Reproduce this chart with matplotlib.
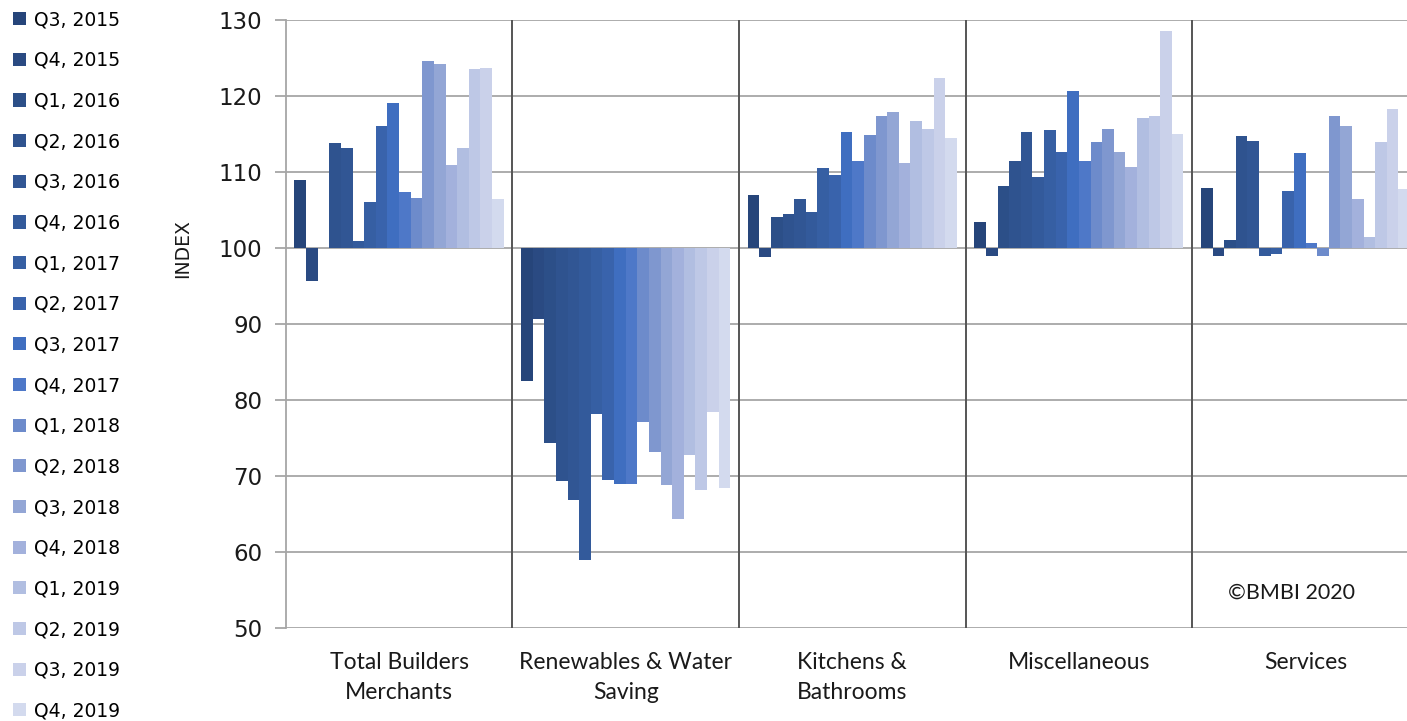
import matplotlib
matplotlib.use("Agg")
import matplotlib.pyplot as plt
import numpy as np

categories = ["Total Builders\nMerchants", "Renewables & Water\nSaving",
              "Kitchens &\nBathrooms", "Miscellaneous", "Services"]
quarters = ["Q3, 2015", "Q4, 2015",
            "Q1, 2016", "Q2, 2016", "Q3, 2016", "Q4, 2016",
            "Q1, 2017", "Q2, 2017", "Q3, 2017", "Q4, 2017",
            "Q1, 2018", "Q2, 2018", "Q3, 2018", "Q4, 2018",
            "Q1, 2019", "Q2, 2019", "Q3, 2019", "Q4, 2019"]

total_bm = [109.0, 95.6, 100.0, 113.8, 113.1, 100.9, 106.0, 116.1, 119.1,
            107.3, 106.6, 124.6, 124.2, 110.9, 113.1, 123.5, 123.7, 106.5]
renewables = [82.5, 90.6, 74.3, 69.3, 66.8, 59.0, 78.2, 69.5, 69.0,
              69.0, 77.1, 73.2, 68.8, 64.3, 72.7, 68.1, 78.4, 68.4]
kitchens = [107.0, 98.8, 104.1, 104.5, 106.5, 104.7, 110.5, 109.6, 115.2,
            111.5, 114.9, 117.3, 117.9, 111.2, 116.7, 115.6, 122.4, 114.5]
misc = [103.4, 99.0, 108.2, 111.4, 115.2, 109.4, 115.5, 112.6, 120.6,
        111.4, 113.9, 115.7, 112.6, 110.6, 117.1, 117.3, 128.5, 115.0]
services = [107.9, 99.0, 101.0, 114.7, 114.1, 98.9, 99.25, 107.5, 112.5,
            100.7, 98.9, 117.4, 116.1, 106.5, 101.4, 113.9, 118.3, 107.7]

colors = ["#26457A", "#2A4A82", "#2C4F88", "#2F538F", "#315694", "#335A9B",
          "#365FA3", "#3963AC", "#3F6EC0", "#4E78C8", "#6D8BCB", "#7F97CF",
          "#93A6D5", "#A3B1DC", "#B1BEE1", "#BEC8E6", "#CAD1EA", "#D3DAEE"]

groups = [total_bm, renewables, kitchens, misc, services]

fig = plt.figure(figsize=(14.07, 7.21), dpi=100)
ax = fig.add_axes([0.2031, 0.129, 0.8053, 0.8433])

n = len(quarters)
w = 0.923 / n
start = (1 - n * w) / 2
x = np.arange(len(groups))
for j in range(n):
    vals = np.array([g[j] for g in groups])
    ax.bar(x + start + (j + 0.5) * w, vals - 100, bottom=100, width=w,
           color=colors[j], linewidth=0, label=quarters[j], zorder=3)

ax.set_xlim(0, len(groups))
ax.set_ylim(50, 130)
ax.set_yticks(range(50, 131, 10))
ax.set_xticks([])
ax.grid(axis="y", color="#A6A6A6", linewidth=1.3, zorder=0)
for s in ["top", "right", "bottom"]:
    ax.spines[s].set_visible(False)
ax.spines["left"].set_color("#A6A6A6")
ax.spines["left"].set_linewidth(1.3)
ax.tick_params(axis="y", length=8, width=1.3, color="#A6A6A6",
               labelsize=16.5, pad=9, labelcolor="#1a1a1a")

# group separators
for b in range(1, len(groups)):
    ax.axvline(b, color="#555555", linewidth=1.4, zorder=4)

for i, c in enumerate(categories):
    ax.text(i + 0.5, -0.040, c, transform=ax.get_xaxis_transform(),
            ha="center", va="top", fontsize=16.5, family="Lato",
            linespacing=1.5, color="#1a1a1a")

fig.text(183 / 1407, 1 - 249 / 721, "INDEX", rotation=90, ha="center",
         va="center", fontsize=13.5, family=["Liberation Sans Narrow", "DejaVu Sans"],
         color="#1a1a1a")
fig.text(1291 / 1407, 1 - 593 / 721, "\u00a9BMBI 2020", ha="center",
         va="center", fontsize=15.5, family="Lato", color="#1a1a1a")

handles, labels = ax.get_legend_handles_labels()
leg = fig.legend(handles, labels, loc="upper left",
                 bbox_to_anchor=(0.0, 1.004), frameon=False, fontsize=13.5,
                 handlelength=0.7, handleheight=0.7, handletextpad=0.4,
                 labelspacing=1.155, borderaxespad=0.3)

fig.savefig("out.png", dpi=100)
